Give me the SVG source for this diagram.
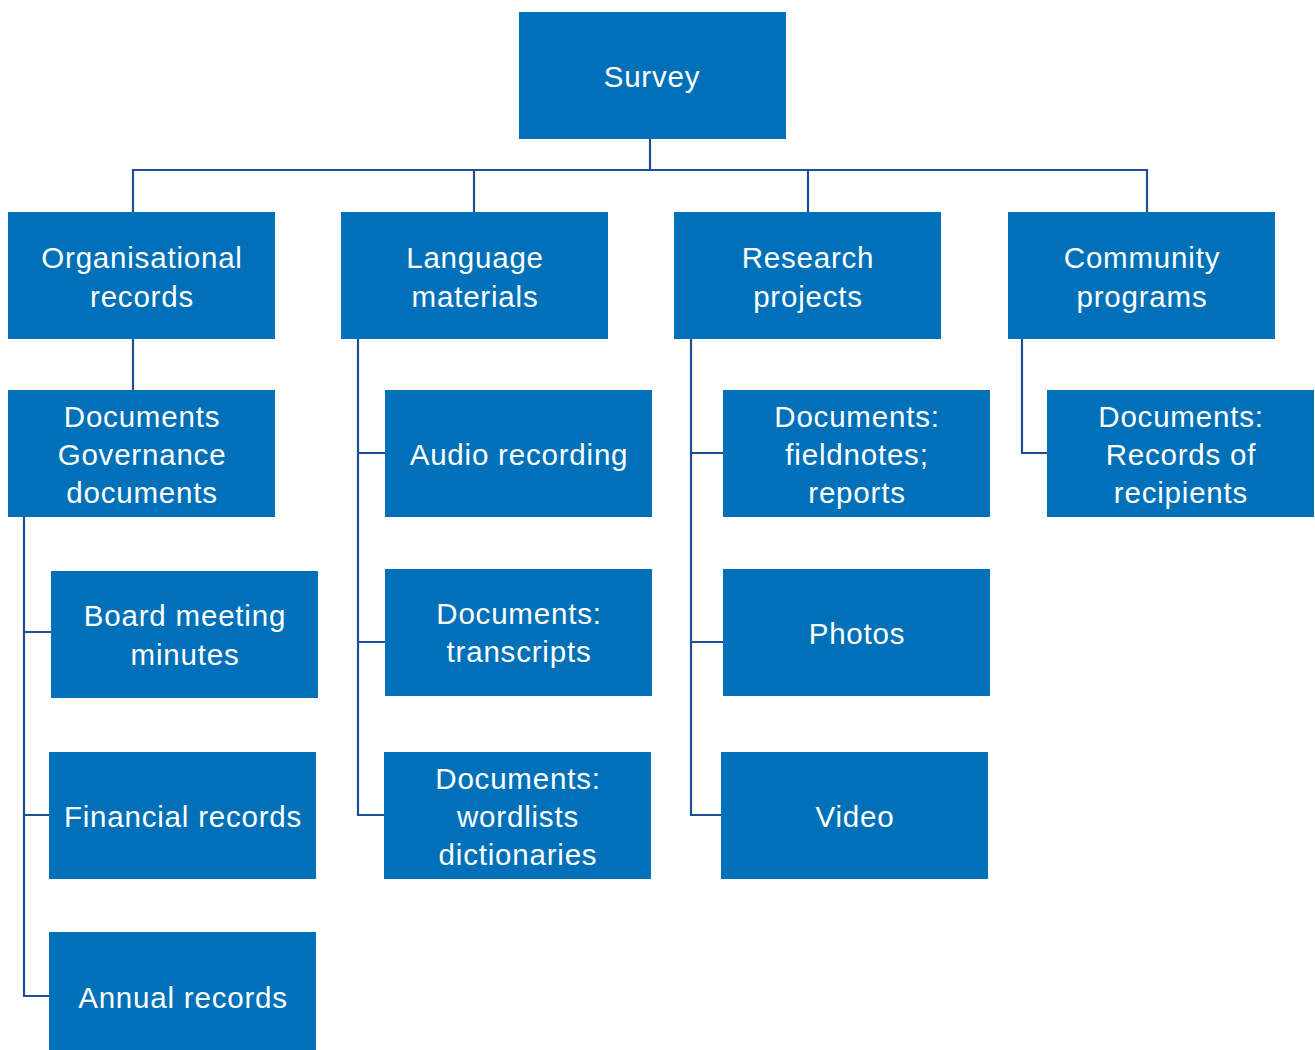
<svg xmlns="http://www.w3.org/2000/svg" width="1315" height="1050" viewBox="0 0 1315 1050">
  <style>
    .box { fill: #0071b9; }
    .lbl { fill: #ffffff; font-family: "Liberation Sans", Arial, sans-serif; font-size: 29.5px; letter-spacing: 0.8px; text-anchor: middle; }
    .wire { fill: none; stroke: #1f4e96; stroke-width: 2.2; }
  </style>
  <rect width="1315" height="1050" fill="#ffffff"/>

  <g id="connectors">
    <!-- root to first level -->
    <path class="wire" d="M650 139 V170 M133 212 V170 H1147 V212 M474 170 V212 M808 170 V212"/>
    <!-- Organisational records -->
    <path class="wire" d="M133 339 V390"/>
    <path class="wire" d="M24 517 V996 H49 M24 632 H51 M24 815 H49"/>
    <!-- Language materials -->
    <path class="wire" d="M358 339 V815 H384 M358 453 H385 M358 642 H385"/>
    <!-- Research projects -->
    <path class="wire" d="M691 339 V815 H721 M691 453 H723 M691 642 H723"/>
    <!-- Community programs -->
    <path class="wire" d="M1022 339 V453 H1047"/>
  </g>

  <g id="survey">
    <rect class="box" x="519" y="12" width="267" height="127"/>
    <text class="lbl" x="652" y="87">Survey</text>
  </g>

  <g id="organisational-records">
    <rect class="box" x="8" y="212" width="267" height="127"/>
    <text class="lbl" x="142" y="268">Organisational</text>
    <text class="lbl" x="142" y="307">records</text>
  </g>
  <g id="language-materials">
    <rect class="box" x="341" y="212" width="267" height="127"/>
    <text class="lbl" x="475" y="268">Language</text>
    <text class="lbl" x="475" y="307">materials</text>
  </g>
  <g id="research-projects">
    <rect class="box" x="674" y="212" width="267" height="127"/>
    <text class="lbl" x="808" y="268">Research</text>
    <text class="lbl" x="808" y="307">projects</text>
  </g>
  <g id="community-programs">
    <rect class="box" x="1008" y="212" width="267" height="127"/>
    <text class="lbl" x="1142" y="268">Community</text>
    <text class="lbl" x="1142" y="307">programs</text>
  </g>

  <g id="governance-documents">
    <rect class="box" x="8" y="390" width="267" height="127"/>
    <text class="lbl" x="142" y="427">Documents</text>
    <text class="lbl" x="142" y="465">Governance</text>
    <text class="lbl" x="142" y="503">documents</text>
  </g>
  <g id="board-meeting-minutes">
    <rect class="box" x="51" y="571" width="267" height="127"/>
    <text class="lbl" x="185" y="626">Board meeting</text>
    <text class="lbl" x="185" y="665">minutes</text>
  </g>
  <g id="financial-records">
    <rect class="box" x="49" y="752" width="267" height="127"/>
    <text class="lbl" x="183" y="827">Financial records</text>
  </g>
  <g id="annual-records">
    <rect class="box" x="49" y="932" width="267" height="118"/>
    <text class="lbl" x="183" y="1008">Annual records</text>
  </g>

  <g id="audio-recording">
    <rect class="box" x="385" y="390" width="267" height="127"/>
    <text class="lbl" x="519" y="465">Audio recording</text>
  </g>
  <g id="transcripts">
    <rect class="box" x="385" y="569" width="267" height="127"/>
    <text class="lbl" x="519" y="624">Documents:</text>
    <text class="lbl" x="519" y="662">transcripts</text>
  </g>
  <g id="wordlists-dictionaries">
    <rect class="box" x="384" y="752" width="267" height="127"/>
    <text class="lbl" x="518" y="789">Documents:</text>
    <text class="lbl" x="518" y="827">wordlists</text>
    <text class="lbl" x="518" y="865">dictionaries</text>
  </g>

  <g id="fieldnotes-reports">
    <rect class="box" x="723" y="390" width="267" height="127"/>
    <text class="lbl" x="857" y="427">Documents:</text>
    <text class="lbl" x="857" y="465">fieldnotes;</text>
    <text class="lbl" x="857" y="503">reports</text>
  </g>
  <g id="photos">
    <rect class="box" x="723" y="569" width="267" height="127"/>
    <text class="lbl" x="857" y="644">Photos</text>
  </g>
  <g id="video">
    <rect class="box" x="721" y="752" width="267" height="127"/>
    <text class="lbl" x="855" y="827">Video</text>
  </g>

  <g id="records-of-recipients">
    <rect class="box" x="1047" y="390" width="267" height="127"/>
    <text class="lbl" x="1181" y="427">Documents:</text>
    <text class="lbl" x="1181" y="465">Records of</text>
    <text class="lbl" x="1181" y="503">recipients</text>
  </g>
</svg>
